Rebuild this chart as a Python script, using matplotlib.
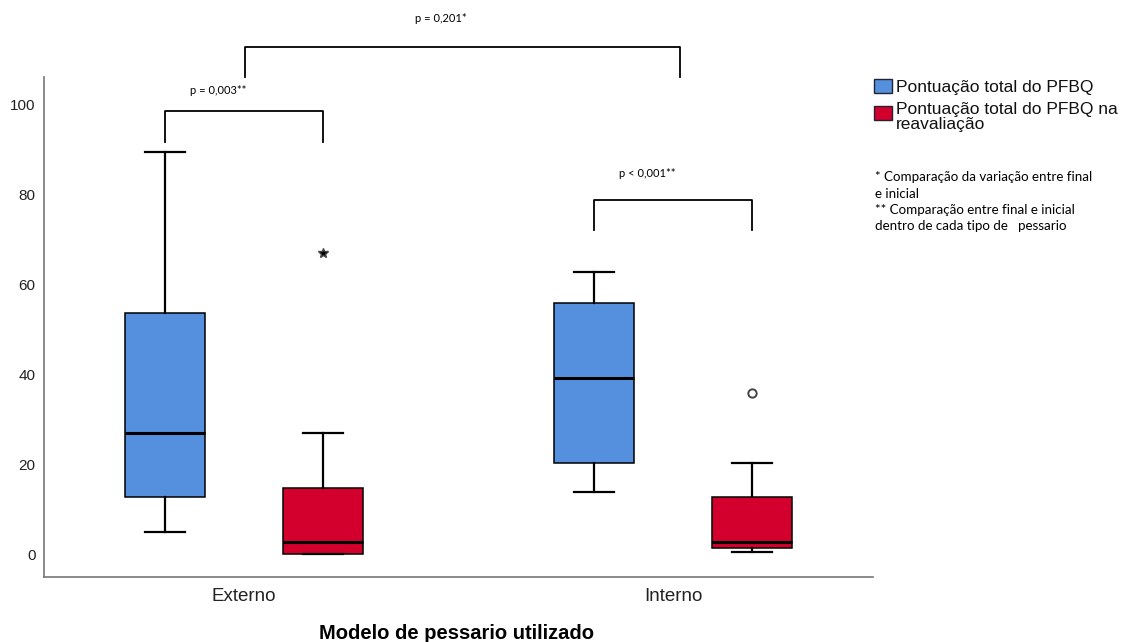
import numpy as np
import matplotlib
matplotlib.use("Agg")
import matplotlib.pyplot as plt
from matplotlib.patches import Rectangle

plt.rcParams["font.family"] = ["Liberation Sans", "DejaVu Sans"]

# Boxplot statistics (PFBQ total score)
groups = ["Externo", "Interno"]
series = ["Pontuação total do PFBQ", "Pontuação total do PFBQ na\nreavaliação"]
colors = ["#5590DF", "#D3002E"]

# [group][series] -> (whislo, q1, med, q3, whishi)
stats_vals = [
    [(4.9, 12.7, 27.0, 53.6, 89.4), (0.0, 0.0, 2.6, 14.8, 27.0)],
    [(13.8, 20.3, 39.2, 55.9, 62.6), (0.4, 1.3, 2.6, 12.6, 20.3)],
]
fliers = [[[], [67.0]], [[], [35.9]]]
flier_markers = [["o", "*"], ["o", "o"]]

# significance brackets: (x0, x1, y_top, y_leg, label, text x, text y)
brackets = [
    (-0.184, 0.184, 98.4, 91.6, "p = 0,003**", -0.06, 103.0),
    (0.002, 1.016, 112.7, 106.0, "p = 0,201*", 0.458, 118.9),
    (0.816, 1.184, 78.7, 72.0, "p < 0,001**", 0.94, 84.5),
]

fig = plt.figure(figsize=(11.27, 6.42), dpi=100)
ax = fig.add_axes([0.039, 0.101, 0.736, 0.779])

offset = 0.184
width = 0.186
for gi, g in enumerate(groups):
    for si in range(2):
        lo, q1, med, q3, hi = stats_vals[gi][si]
        st = [dict(whislo=lo, q1=q1, med=med, q3=q3, whishi=hi, fliers=fliers[gi][si])]
        pos = gi + (si - 0.5) * 2 * offset
        mk = flier_markers[gi][si]
        ax.bxp(st, positions=[pos], widths=width, patch_artist=True,
               boxprops=dict(facecolor=colors[si], edgecolor="black", linewidth=1.1),
               medianprops=dict(color="black", linewidth=2.2),
               whiskerprops=dict(color="black", linewidth=1.6),
               capprops=dict(color="black", linewidth=1.6),
               capwidths=width / 2,
               flierprops=dict(marker=mk, markerfacecolor="black" if mk == "*" else "none",
                               markeredgecolor="#444444", markersize=7 if mk == "*" else 6,
                               markeredgewidth=1.0 if mk == "*" else 1.4),
               manage_ticks=False)

ax.set_xlim(-0.466, 1.466)
ax.set_ylim(-5.1, 106)
ax.set_yticks([0, 20, 40, 60, 80, 100])
ax.set_yticklabels(["0", "20", "40", "60", "80", "100"], fontsize=11, color="#222222")
ax.set_xticks([0, 1])
ax.set_xticklabels(groups, fontsize=13.5, color="#222222")
ax.tick_params(axis="both", length=0)
ax.tick_params(axis="y", pad=6)
ax.tick_params(axis="x", pad=8)
for s in ["top", "right"]:
    ax.spines[s].set_visible(False)
for s in ["left", "bottom"]:
    ax.spines[s].set_color("#777777")
    ax.spines[s].set_linewidth(1.2)

fig.text(0.405, 0.004, "Modelo de pessario utilizado", fontsize=14.5, fontweight="bold",
         ha="center", va="baseline")

for x0, x1, yt, yl, lab, tx, ty in brackets:
    ax.plot([x0, x0, x1, x1], [yl, yt, yt, yl], color="black", lw=1.3, clip_on=False,
            solid_joinstyle="round")
    ax.text(tx, ty, lab, fontsize=8, family="Lato", ha="center", va="center", clip_on=False)

# legend
sq_y = [0.866, 0.824]
txt_y = [0.864, 0.818]
for i, (lab, c) in enumerate(zip(series, colors)):
    fig.patches.append(Rectangle((0.7755, sq_y[i] - 0.0105), 0.016, 0.021,
                                 transform=fig.transFigure,
                                 facecolor=c, edgecolor="#222233", linewidth=1.0))
    fig.text(0.795, txt_y[i], lab, fontsize=12.5, va="center", ha="left",
             linespacing=1.0, color="#111111")

notes = ("* Comparação da variação entre final\ne inicial\n"
         "** Comparação entre final e inicial\ndentro de cada tipo de   pessario")
fig.text(0.776, 0.733, notes, fontsize=9.6, family="Lato", va="top", ha="left", linespacing=1.42)

fig.savefig("out.png", dpi=100)
